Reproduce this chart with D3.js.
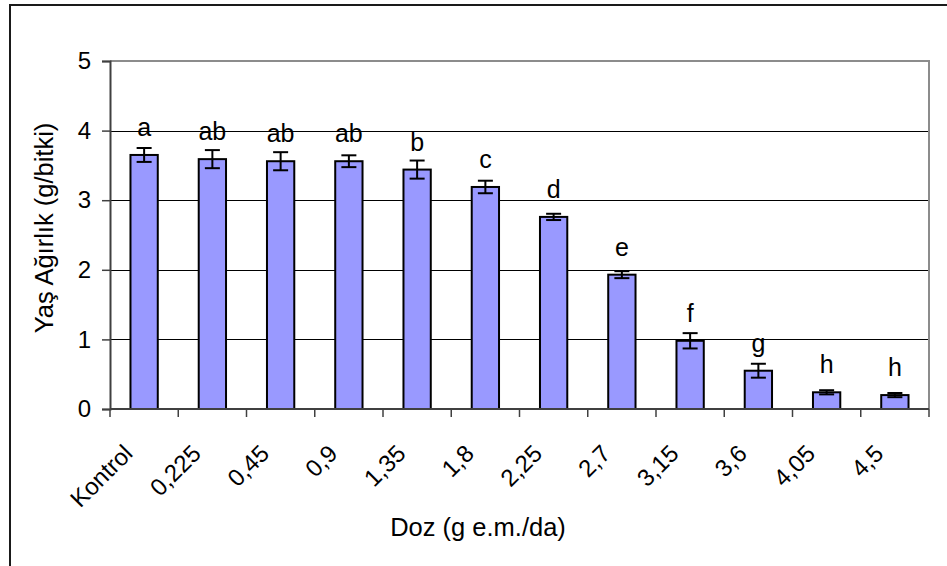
<!DOCTYPE html>
<html>
<head>
<meta charset="utf-8">
<script src="https://cdn.jsdelivr.net/npm/d3@7"></script>
<style>
  body { margin: 0; background: #fff; }
  svg text { font-family: "Liberation Sans", Arial, sans-serif; fill: #000; }
</style>
</head>
<body>
<svg id="chart"></svg>
<script>
// doses (category labels), mean fresh weight, error and significance letters
var doses = ["Kontrol", "0,225", "0,45", "0,9", "1,35", "1,8", "2,25", "2,7", "3,15", "3,6", "4,05", "4,5"]
var means = [3.65, 3.59, 3.56, 3.56, 3.44, 3.19, 2.76, 1.93, 0.98, 0.55, 0.24, 0.20]
var errs = [0.10, 0.13, 0.13, 0.085, 0.13, 0.09, 0.045, 0.05, 0.11, 0.10, 0.03, 0.03]
var letters = ["a", "ab", "ab", "ab", "b", "c", "d", "e", "f", "g", "h", "h"]
var yTicks = [0, 1, 2, 3, 4, 5]

var W = 947, H = 566
var margin = {top: 61, right: 18, bottom: 157, left: 110}
var width = W - margin.left - margin.right,
    height = H - margin.top - margin.bottom

var svg = d3.select("#chart")
    .attr("width", W)
    .attr("height", H)

// outer chart frame (right and bottom edges fall outside the picture)
svg.append("rect")
    .attr("x", 10).attr("y", 5)
    .attr("width", 980).attr("height", 600)
    .attr("fill", "none")
    .attr("stroke", "#1a1a1a")
    .attr("stroke-width", 2)

var g = svg.append("g")
    .attr("transform", "translate(" + margin.left + "," + margin.top + ")")

var x = d3.scaleBand()
    .domain(doses)
    .range([0, width])
    .paddingInner(0.6)
    .paddingOuter(0.3)

var y = d3.scaleLinear()
    .domain([0, 5])
    .range([height, 0])

// gridlines
g.append("g")
    .selectAll("line")
    .data(yTicks.filter(function(d){ return d > 0 && d < 5 }))
    .enter().append("line")
    .attr("x1", 0).attr("x2", width)
    .attr("y1", function(d){ return Math.round(y(d)) + 0.5 })
    .attr("y2", function(d){ return Math.round(y(d)) + 0.5 })
    .attr("stroke", "#000")
    .attr("stroke-width", 1)

// plot area border top/right
g.append("path")
    .attr("d", "M0," + y(5) + "H" + width + "V" + height)
    .attr("fill", "none")
    .attr("stroke", "#8c8c8c")
    .attr("stroke-width", 2)

// bars
g.append("g")
    .selectAll("rect")
    .data(means)
    .enter().append("rect")
    .attr("x", function(d, i){ return x(doses[i]) })
    .attr("y", function(d){ return y(d) })
    .attr("width", x.bandwidth())
    .attr("height", function(d){ return height - y(d) })
    .attr("fill", "#9999ff")
    .attr("stroke", "#000")
    .attr("stroke-width", 2)

// error bars
var eb = g.append("g").attr("stroke", "#000").attr("stroke-width", 2)
var capW = 7.5
means.forEach(function(m, i){
    var cx = x(doses[i]) + x.bandwidth() / 2
    var yt = y(m + errs[i]), yb = y(m - errs[i])
    eb.append("line").attr("x1", cx).attr("x2", cx).attr("y1", yt).attr("y2", yb)
    eb.append("line").attr("x1", cx - capW).attr("x2", cx + capW).attr("y1", yt).attr("y2", yt)
    eb.append("line").attr("x1", cx - capW).attr("x2", cx + capW).attr("y1", yb).attr("y2", yb)
})

// significance letters
g.append("g")
    .selectAll("text")
    .data(letters)
    .enter().append("text")
    .attr("x", function(d, i){ return x(doses[i]) + x.bandwidth() / 2 })
    .attr("y", function(d, i){ return y(means[i]) - 19 })
    .attr("text-anchor", "middle")
    .style("font-size", "25px")
    .text(function(d){ return d })

// y axis
var yAxis = g.append("g")
    .call(d3.axisLeft(y).tickValues(yTicks).tickSize(8).tickPadding(11).tickFormat(d3.format("d")))
yAxis.select(".domain").attr("stroke", "#404040").attr("stroke-width", 2)
yAxis.selectAll(".tick line").attr("stroke", "#404040").attr("stroke-width", 1.5)
yAxis.selectAll(".tick text").style("font-size", "24px").attr("fill", "#000")

// x axis: ticks at category boundaries
var step = x.step()
var xAxis = g.append("g")
    .attr("transform", "translate(0," + height + ")")
xAxis.append("line")
    .attr("x1", 0).attr("x2", width)
    .attr("stroke", "#404040").attr("stroke-width", 2)
xAxis.selectAll(".xtick")
    .data(d3.range(doses.length + 1))
    .enter().append("line")
    .attr("class", "xtick")
    .attr("x1", function(i){ return i * step }).attr("x2", function(i){ return i * step })
    .attr("y1", 0).attr("y2", 8)
    .attr("stroke", "#404040").attr("stroke-width", 1.5)
xAxis.selectAll(".xlab")
    .data(doses)
    .enter().append("text")
    .attr("class", "xlab")
    .attr("text-anchor", "end")
    .attr("transform", function(d){
        return "translate(" + (x(d) + x.bandwidth() / 2 - 10) + ",46) rotate(-45)"
    })
    .style("font-size", "24px")
    .text(function(d){ return d })

// axis titles
svg.append("text")
    .attr("x", 478).attr("y", 536)
    .attr("text-anchor", "middle")
    .style("font-size", "25.5px")
    .text("Doz (g e.m./da)")

svg.append("text")
    .attr("transform", "translate(53,228) rotate(-90)")
    .attr("text-anchor", "middle")
    .style("font-size", "25.5px")
    .text("Yaş Ağırlık (g/bitki)")
</script>
</body>
</html>
